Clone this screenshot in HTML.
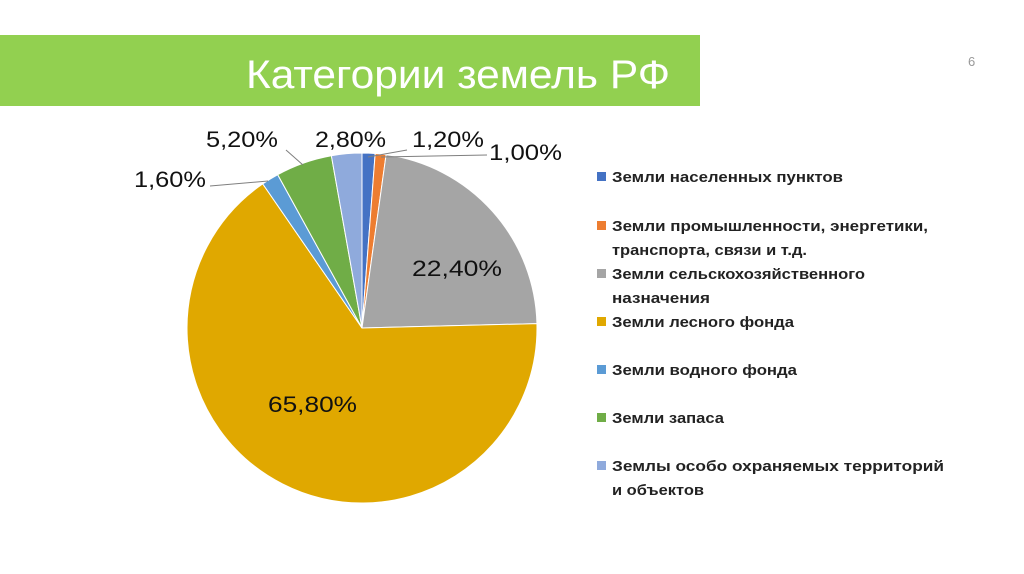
<!DOCTYPE html>
<html><head><meta charset="utf-8"><style>
html,body{margin:0;padding:0;background:#fff;}
svg{display:block;}
</style></head><body>
<svg width="1024" height="574" viewBox="0 0 1024 574" xmlns="http://www.w3.org/2000/svg" font-family="'Liberation Sans','DejaVu Sans',sans-serif">
<rect x="0" y="35" width="700" height="71" fill="#92D050"/>
<text x="246" y="88" font-size="40" fill="#fff" textLength="424" lengthAdjust="spacingAndGlyphs">Категории земель  РФ</text>
<text x="968" y="66" font-size="13" fill="#999">6</text>
<g stroke="#fff" stroke-width="1" transform="translate(0,-1)">
<path d="M362,329 L362,154 A175,175 0 0 1 375.18,154.50 Z" fill="#4472C4"/>
<path d="M362,329 L375.18,154.50 A175,175 0 0 1 386.11,155.66 Z" fill="#ED7D31"/>
<path d="M362,329 L386.11,155.66 A175,175 0 0 1 536.94,324.60 Z" fill="#A5A5A5"/>
<path d="M362,329 L536.94,324.60 A175,175 0 1 1 262.74,184.87 Z" fill="#E0A800"/>
<path d="M362,329 L262.74,184.87 A175,175 0 0 1 277.69,175.65 Z" fill="#5B9BD5"/>
<path d="M362,329 L277.69,175.65 A175,175 0 0 1 331.37,156.70 Z" fill="#70AD47"/>
<path d="M362,329 L331.37,156.70 A175,175 0 0 1 362,154 Z" fill="#8FAADC"/>
</g>
<g stroke="#7f7f7f" stroke-width="1" fill="none">
<polyline points="210,186 268,181"/>
<polyline points="286,150 303,165"/>
<polyline points="407,150 368,157"/>
<polyline points="487,155 381,157"/>
</g>
<g font-size="22" fill="#111">
<text x="206" y="147" textLength="72" lengthAdjust="spacingAndGlyphs">5,20%</text>
<text x="315" y="147" textLength="71" lengthAdjust="spacingAndGlyphs">2,80%</text>
<text x="412" y="147" textLength="72" lengthAdjust="spacingAndGlyphs">1,20%</text>
<text x="489" y="160" textLength="73" lengthAdjust="spacingAndGlyphs">1,00%</text>
<text x="134" y="187" textLength="72" lengthAdjust="spacingAndGlyphs">1,60%</text>
<text x="412" y="276" textLength="90" lengthAdjust="spacingAndGlyphs">22,40%</text>
<text x="268" y="412" textLength="89" lengthAdjust="spacingAndGlyphs">65,80%</text>
</g>
<g font-size="14.5" font-weight="bold" fill="#222">
<rect x="597" y="172" width="9" height="9" fill="#4472C4"/>
<text x="612" y="182" textLength="231" lengthAdjust="spacingAndGlyphs">Земли населенных пунктов</text>
<rect x="597" y="221" width="9" height="9" fill="#ED7D31"/>
<text x="612" y="231" textLength="316" lengthAdjust="spacingAndGlyphs">Земли промышленности, энергетики,</text>
<text x="612" y="255" textLength="195" lengthAdjust="spacingAndGlyphs">транспорта, связи и т.д.</text>
<rect x="597" y="269" width="9" height="9" fill="#A5A5A5"/>
<text x="612" y="279" textLength="253" lengthAdjust="spacingAndGlyphs">Земли сельскохозяйственного</text>
<text x="612" y="303" textLength="98" lengthAdjust="spacingAndGlyphs">назначения</text>
<rect x="597" y="317" width="9" height="9" fill="#E0A800"/>
<text x="612" y="327" textLength="182" lengthAdjust="spacingAndGlyphs">Земли лесного фонда</text>
<rect x="597" y="365" width="9" height="9" fill="#5B9BD5"/>
<text x="612" y="375" textLength="185" lengthAdjust="spacingAndGlyphs">Земли водного фонда</text>
<rect x="597" y="413" width="9" height="9" fill="#70AD47"/>
<text x="612" y="423" textLength="112" lengthAdjust="spacingAndGlyphs">Земли запаса</text>
<rect x="597" y="461" width="9" height="9" fill="#8FAADC"/>
<text x="612" y="471" textLength="332" lengthAdjust="spacingAndGlyphs">Землы особо охраняемых территорий</text>
<text x="612" y="495" textLength="92" lengthAdjust="spacingAndGlyphs">и объектов</text>
</g>
</svg>
</body></html>
